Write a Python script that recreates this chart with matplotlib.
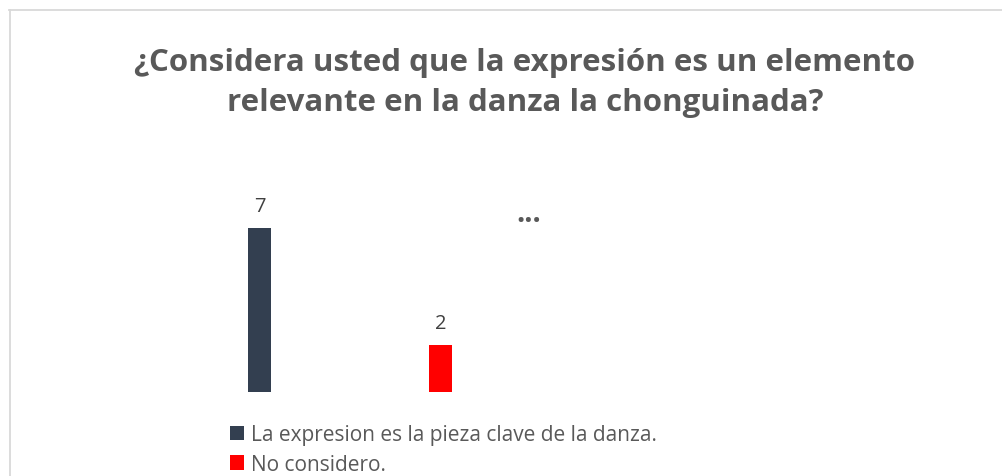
import matplotlib
matplotlib.use('Agg')
import matplotlib.pyplot as plt
from matplotlib.lines import Line2D

# data
series = ['La expresion es la pieza clave de la danza.', 'No considero.']
values = [7, 2]
colors = ['#333F50', '#FF0000']
title = '¿Considera usted que la expresión es un elemento\nrelevante en la danza la chonguinada?'

W, H = 1002, 477
fig = plt.figure(figsize=(W / 100, H / 100), dpi=100)
fig.patch.set_facecolor('white')

# chart frame (light gray border, top and left only visible)
fig.add_artist(Line2D([9 / W, 1.0], [1 - 10.5 / H, 1 - 10.5 / H], color='#d9d9d9', lw=1.3))
fig.add_artist(Line2D([9.5 / W, 9.5 / W], [0, 1 - 10.5 / H], color='#d9d9d9', lw=1.3))

fig.text(525 / W, 1 - 83 / H, title, ha='center', va='center', fontsize=22.5,
         fontweight='bold', color='#595959', family='Open Sans', linespacing=1.42)

# plot area in pixels
left, right, base = 200, 600, 393
unit = 23.45
ax = fig.add_axes([left / W, (H - base) / H, (right - left) / W, 8 * unit / H])
ax.set_xlim((left - 259.5) / 181, (right - 259.5) / 181)
ax.set_ylim(0, 8)
ax.axis('off')

xs = list(range(len(values)))
bars = []
for x, v, c, lab in zip(xs, values, colors, series):
    b = ax.bar(x, v, width=0.127, color=c, label=lab)
    bars.append(b)
    ax.text(x, v + 0.5, str(v), ha='center', va='bottom', fontsize=14.5,
            color='#404040', family='Open Sans')

ax.text(1.486, 7.6, '...', ha='center', va='center', fontsize=21,
        fontweight='bold', color='#595959', family='Open Sans')

leg = fig.legend(handles=[b[0] for b in bars], labels=series, loc='upper left',
                 bbox_to_anchor=(230 / W, 1 - 425 / H), frameon=False,
                 prop={'family': 'Open Sans', 'size': 15},
                 handlelength=0.67, handleheight=0.67, handletextpad=0.33,
                 labelspacing=0.42, borderpad=0, borderaxespad=0)
for t in leg.get_texts():
    t.set_color('#595959')

fig.savefig('out.png', dpi=100, facecolor='white')
